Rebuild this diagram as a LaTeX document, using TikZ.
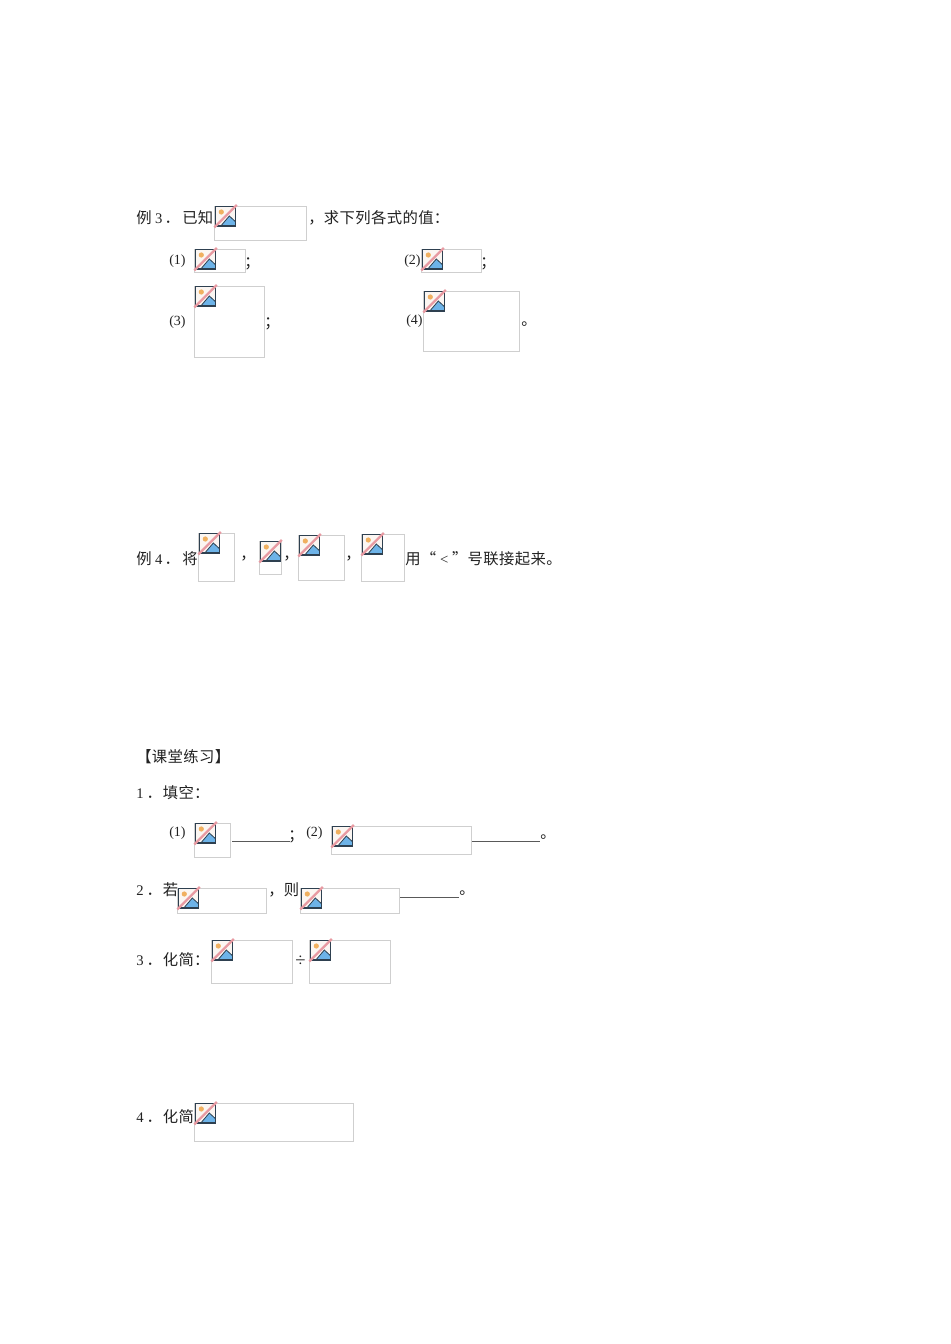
\documentclass[tikz,border=0pt]{standalone}
\usepackage{fontspec}
\setmainfont{Liberation Serif}
\newfontfamily\cjk{Noto Sans CJK SC}[LetterSpace=2.5]
\newfontfamily\latn{Liberation Serif}
\newcommand{\dg}[1]{{\latn\fontsize{11pt}{12pt}\selectfont #1}}
\newcommand{\cell}[2]{\makebox[11.78pt][#1]{#2}}
\definecolor{boxgray}{HTML}{CFCFCF}
\definecolor{icondark}{HTML}{2E4050}
\definecolor{iconblue}{HTML}{6DB3E8}
\definecolor{iconsun}{HTML}{F0B060}
\definecolor{iconred}{HTML}{E89AA2}
\definecolor{iconbg}{HTML}{FBF6F2}
\definecolor{txt}{HTML}{222222}
\tikzset{
  x=0.75pt,y=-0.75pt,
  txtnode/.style={anchor=west,inner sep=0pt,yshift=-0.6pt,text=txt,font=\fontsize{11.5pt}{12pt}\selectfont\cjk},
  numnode/.style={anchor=west,inner sep=0pt,yshift=-1pt,text=txt,font=\fontsize{10.5pt}{12pt}\selectfont\latn},
  blank/.style={draw=txt!75,line width=0.7pt},
  framebox/.style={draw=boxgray,line width=0.7pt,fill=white},
  brokenicon/.pic={
    \fill[iconbg] (0,0) rectangle (19.5,19.5);
    \fill[iconsun] (5.5,5.5) circle (2.6);
    \fill[iconblue] (5,19.5) -- (13.5,9.5) -- (19.5,15) -- (19.5,19.5) -- cycle;
    \draw[icondark,line width=0.6pt] (5,19.5) -- (13.5,9.5) -- (19.5,15);
    \draw[icondark,line width=0.9pt] (0,0) rectangle (19.5,19.5);
    \draw[iconred,line width=1.7pt] (-1.5,21) -- (21,-1.5);
  }
}
\newcommand{\imgbox}[4]{%
  \draw[framebox] (#1,#2) rectangle (#3-0.7,#4-0.7);
  \pic at (#1+1.8,#2+0.5) {brokenicon};
}
\begin{document}
\begin{tikzpicture}
\useasboundingbox[fill=white] (0,0) rectangle (950,1344);
% Example 3
\node[txtnode] (ex3) at (136,217) {例\hspace{2.6pt}\dg{3}\hspace{1.6pt}．\hspace{1.8pt}已知};
\imgbox{214}{206}{307}{241}
\node[txtnode] (ex3b) at (308,217) {，求下列各式的值：};
\node[numnode] (p1) at (169,260) {(1)};
\imgbox{194}{249}{246}{273}
\node[txtnode] (s1) at (244,263) {；};
\node[numnode] (p2) at (404,260) {(2)};
\imgbox{421}{249}{482}{273}
\node[txtnode] (s2) at (480,263) {；};
\node[numnode] (p3) at (169,321) {(3)};
\imgbox{194}{286}{265}{358}
\node[txtnode] (s3) at (264,323) {；};
\node[numnode] (p4) at (406,320) {(4)};
\imgbox{423}{291}{520}{352}
\node[txtnode] (s4) at (521,323) {。};
% Example 4
\node[txtnode] (ex4) at (136,558) {例\hspace{2.6pt}\dg{4}\hspace{1.6pt}．\hspace{1.8pt}将};
\imgbox{198}{533}{235}{582}
\node[txtnode] (c1) at (240,558) {，};
\imgbox{259}{541}{282}{575}
\node[txtnode] (c2) at (283,558) {，};
\imgbox{298}{535}{345}{581}
\node[txtnode] (c3) at (345,558) {，};
\imgbox{361}{534}{405}{582}
\node[txtnode] (ex4b) at (405,558) {用\cell{r}{“}\cell{c}{\dg{<}}\cell{l}{”}号联接起来。};
% Practice
\node[txtnode] (head) at (136,756) {【课堂练习】};
\node[txtnode] (q1) at (136,792) {\dg{1}\hspace{2.2pt}．\hspace{0.7pt}填空：};
\node[numnode] (q1a) at (169,832) {(1)};
\imgbox{194}{823}{231}{858}
\draw[blank] (232,841) -- (290,841);
\node[txtnode] (q1s) at (288,836) {；};
\node[numnode] (q1b) at (306,832) {(2)};
\imgbox{331}{826}{472}{855}
\draw[blank] (472,841) -- (540,841);
\node[txtnode] (q1e) at (540,836) {。};
\node[txtnode] (q2) at (136,889) {\dg{2}\hspace{2.2pt}．\hspace{0.7pt}若};
\imgbox{177}{888}{267}{914}
\node[txtnode] (q2c) at (268,889) {，则};
\imgbox{300}{888}{400}{914}
\draw[blank] (400,897) -- (459,897);
\node[txtnode] (q2e) at (459,892) {。};
\node[txtnode] (q3) at (136,959) {\dg{3}\hspace{2.2pt}．\hspace{0.7pt}化简：};
\imgbox{211}{940}{293}{984}
\node[numnode,font=\fontsize{14pt}{14pt}\selectfont\latn] (div) at (295,960) {÷};
\imgbox{309}{940}{391}{984}
\node[txtnode] (q4) at (136,1116) {\dg{4}\hspace{2.2pt}．\hspace{0.7pt}化简};
\imgbox{194}{1103}{354}{1142}
\end{tikzpicture}
\end{document}
